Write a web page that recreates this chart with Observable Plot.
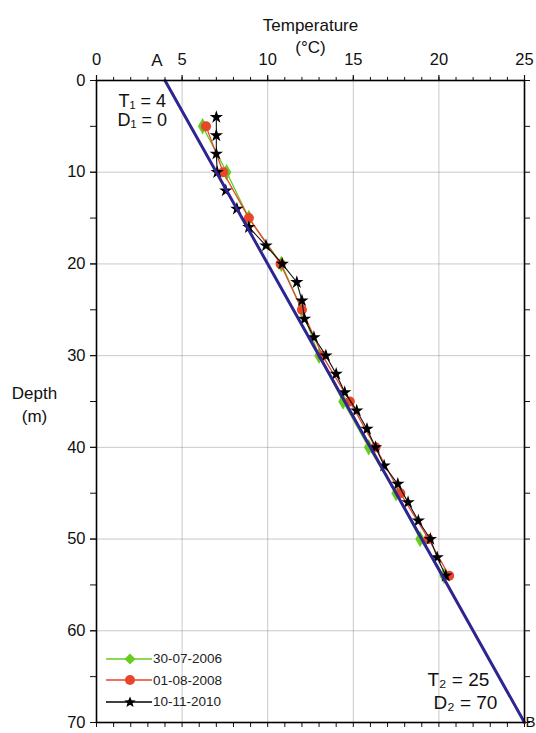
<!DOCTYPE html>
<html><head><meta charset="utf-8">
<script src="https://cdn.jsdelivr.net/npm/d3@7"></script>
<script src="https://cdn.jsdelivr.net/npm/@observablehq/plot@0.6"></script>
<style>
body{margin:0;background:#fff;font-family:"Liberation Sans",Arial,sans-serif;}
#wrap{position:relative;width:536px;height:733px;}
#legend{position:absolute;left:106px;top:648px;font-size:13.5px;color:#222;line-height:21.5px;}
#legend div{display:flex;align-items:center;height:21.5px;}
#legend svg{margin-right:1px;}
</style>
</head><body>
<div id="wrap"><div id="chart"></div>
<div id="legend">
<div><svg width="46" height="12"><line x1="0" y1="6" x2="46" y2="6" stroke="#66cc22" stroke-width="1.3"/><path d="M24,0.5 L29.5,6 L24,11.5 L18.5,6Z" fill="#66cc22"/></svg>30-07-2006</div>
<div><svg width="46" height="12"><line x1="0" y1="6" x2="46" y2="6" stroke="#e8452b" stroke-width="1.3"/><circle cx="24" cy="6" r="5" fill="#e8452b"/></svg>01-08-2008</div>
<div><svg width="46" height="12"><line x1="0" y1="6" x2="46" y2="6" stroke="#000" stroke-width="1.3"/><path d="M24,0.5 L25.6,4.3 L29.7,4.4 L26.5,7 L27.6,11 L24,8.7 L20.4,11 L21.5,7 L18.3,4.4 L22.4,4.3Z" fill="#000"/></svg>10-11-2010</div>
</div>
</div>
<script>
// Series: 30-07-2006
const depth2006 = [5, 10, 15, 20, 25, 30, 35, 40, 45, 50, 54];
const temp2006  = [6.2, 7.6, 8.9, 10.8, 12.0, 13.0, 14.4, 15.9, 17.5, 18.9, 20.3];
// Series: 01-08-2008
const depth2008 = [5, 10, 15, 20, 25, 30, 35, 40, 45, 50, 54];
const temp2008  = [6.4, 7.4, 8.9, 10.75, 12.0, 13.2, 14.8, 16.3, 17.75, 19.4, 20.6];
// Series: 10-11-2010
const depth2010 = [4, 6, 8, 10, 12, 14, 16, 18, 20, 22, 24, 26, 28, 30, 32, 34, 36, 38, 40, 42, 44, 46, 48, 50, 52, 54];
const temp2010  = [7.0, 7.0, 7.0, 7.05, 7.55, 8.2, 8.9, 9.9, 10.85, 11.7, 12.0, 12.15, 12.7, 13.4, 14.0, 14.5, 15.2, 15.8, 16.3, 16.8, 17.6, 18.2, 18.8, 19.5, 19.9, 20.4];
// Reference gradient line A-B
const lineT = [4, 25];
const lineD = [0, 70];
const xMajor = [0, 5, 10, 15, 20, 25];
const xMinor = d3.range(0, 26, 1);
const yMajor = [0, 10, 20, 30, 40, 50, 60, 70];
const yMinor = d3.range(0, 71, 5);

const s2006 = depth2006.map((d, i) => ({d, t: temp2006[i]}));
const s2008 = depth2008.map((d, i) => ({d, t: temp2008[i]}));
const s2010 = depth2010.map((d, i) => ({d, t: temp2010[i]}));
const sLine = lineD.map((d, i) => ({d, t: lineT[i]}));

const green = "#66cc22", red = "#e8452b", blue = "#2e2590";
const chart = Plot.plot({
  width: 536, height: 733,
  marginTop: 80, marginLeft: 96, marginRight: 12, marginBottom: 11,
  style: {fontFamily: "Liberation Sans, Arial, sans-serif", fontSize: "15px", color: "#111", background: "white"},
  x: {domain: [0, 25]},
  y: {domain: [0, 70], reverse: true},
  marks: [
    Plot.gridX(xMajor, {stroke: "#888", strokeOpacity: 0.45, strokeWidth: 1}),
    Plot.gridY(yMajor, {stroke: "#888", strokeOpacity: 0.45, strokeWidth: 1}),
    Plot.axisX(xMinor, {anchor: "top", tickSize: 4, text: null, label: null, strokeWidth: 1}),
    Plot.axisX(xMajor, {anchor: "top", tickSize: 6, tickPadding: 10, fontSize: 16.5, label: null, strokeWidth: 1.2}),
    Plot.axisX(xMinor, {anchor: "bottom", tickSize: 5, text: null, label: null}),
    Plot.axisY(yMinor, {anchor: "left", tickSize: 6, text: null, label: null}),
    Plot.axisY(yMajor, {anchor: "left", tickSize: 6, tickPadding: 5, fontSize: 16.5, label: null}),
    Plot.axisY(yMinor, {anchor: "right", tickSize: 5, text: null, label: null}),
    Plot.text(["Temperature"], {frameAnchor: "top", dy: -62, fontSize: 17}),
    Plot.text(["(°C)"], {frameAnchor: "top", dy: -40, fontSize: 17}),
    Plot.text(["Depth\n(m)"], {frameAnchor: "left", dx: -62, dy: 2, fontSize: 17, lineHeight: 1.35, textAnchor: "middle"}),
    Plot.line(s2006, {x: "t", y: "d", stroke: green, strokeWidth: 1.3}),
    Plot.dot(s2006, {x: "t", y: "d", symbol: "diamond", fill: green, r: 5}),
    Plot.line(s2008, {x: "t", y: "d", stroke: red, strokeWidth: 1.3}),
    Plot.dot(s2008, {x: "t", y: "d", symbol: "circle", fill: red, r: 5}),
    Plot.line(s2010, {x: "t", y: "d", stroke: "#111", strokeWidth: 1.1}),
    Plot.dot(s2010, {x: "t", y: "d", symbol: "star", fill: "#000", r: 4.2}),
    Plot.line(sLine, {x: "t", y: "d", stroke: blue, strokeWidth: 3}),
    Plot.text([sLine[0]], {x: "t", y: "d", text: () => "A", dy: -20, dx: -8, fontSize: 17}),
    Plot.text([sLine[1]], {x: "t", y: "d", text: () => "B", dx: 1, dy: 0, fontSize: 15, textAnchor: "start"}),
    Plot.text(["T₁ = 4"], {frameAnchor: "top-left", dx: 22, dy: 14, fontSize: 18, textAnchor: "start"}),
    Plot.text(["D₁ = 0"], {frameAnchor: "top-left", dx: 21, dy: 33, fontSize: 18, textAnchor: "start"}),
    Plot.text(["T₂ = 25"], {frameAnchor: "bottom-right", dx: -97, dy: -37, fontSize: 19, textAnchor: "start"}),
    Plot.text(["D₂ = 70"], {frameAnchor: "bottom-right", dx: -91, dy: -14, fontSize: 19, textAnchor: "start"}),
    Plot.frame({stroke: "#000", strokeWidth: 1.6})
  ]
});
document.getElementById("chart").appendChild(chart);
</script>
</body></html>
